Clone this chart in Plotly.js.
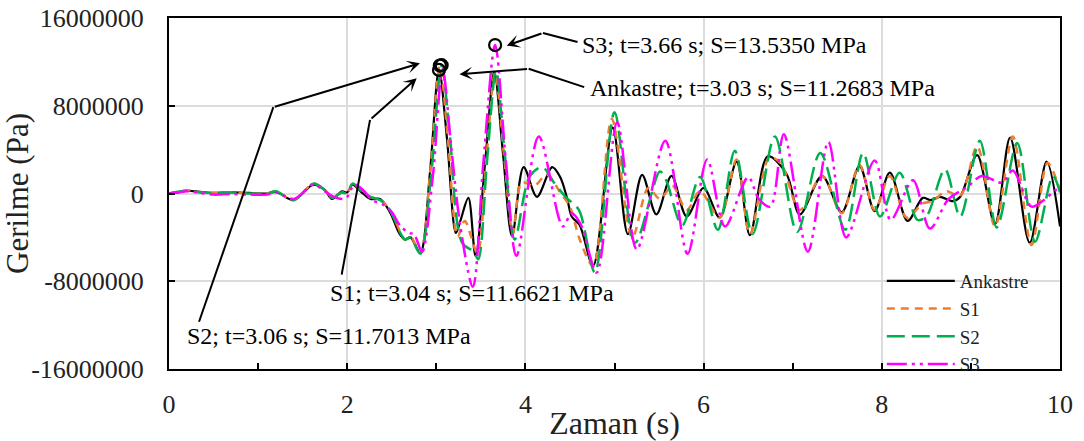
<!DOCTYPE html>
<html>
<head>
<meta charset="utf-8">
<script src="https://cdn.plot.ly/plotly-3.0.1.min.js"></script>
<style>html,body{margin:0;padding:0;background:#fff;}#chart{width:1084px;height:441px;}</style>
</head>
<body>
<div id="chart"></div>
<script>
// ---- data (stress in Pa) ----
const seriesNames = ["Ankastre", "S1", "S2", "S3"];

const tAnkastre = [0,0.1,0.2,0.35,0.5,0.7,0.9,1.1,1.2,1.4,1.62,1.75,1.83,1.94,2.0,2.06,2.15,2.26,2.37,2.48,2.59,2.65,2.71,2.82,2.93,3.03,3.12,3.22,3.27,3.36,3.44,3.55,3.65,3.75,3.85,3.98,4.13,4.3,4.39,4.47,4.52,4.61,4.76,4.98,5.15,5.31,5.47,5.64,5.81,6.0,6.18,6.37,6.52,6.72,6.93,7.08,7.33,7.55,7.75,7.92,8.09,8.29,8.46,8.55,8.65,8.8,8.88,9.07,9.27,9.44,9.66,9.85,10.0];
const sAnkastre = [0,0.1e6,0.25e6,0.15e6,0.05e6,0.1e6,0.05e6,0,0.15e6,-0.6e6,0.8e6,0.3e6,-0.5e6,0.2e6,0.1e6,0.8e6,0.2e6,-0.5e6,-0.5e6,-1.7e6,-3.7e6,-4.2e6,-4.0e6,-5.4e6,2.0e6,11.2683e6,5.0e6,-3.6e6,-2.5e6,-0.4e6,-5.7e6,3.0e6,11.1e6,3.5e6,-3.9e6,2.4e6,-0.3e6,2.4e6,1.5e6,-0.5e6,-2.1e6,-2.9e6,-6.6e6,6.0e6,-3.7e6,1.7e6,-1.9e6,1.6e6,-2.1e6,0.5e6,-2.2e6,2.9e6,-3.8e6,3.4e6,1.8e6,-1.9e6,1.6e6,-1.7e6,2.5e6,-1.6e6,1.9e6,-2.5e6,-0.4e6,-0.6e6,-0.3e6,-0.7e6,-0.3e6,3.5e6,-2.8e6,5.1e6,-4.5e6,2.9e6,-3.0e6];

const tS1 = [0,0.1,0.2,0.35,0.5,0.7,0.9,1.1,1.2,1.4,1.62,1.75,1.83,1.94,2.0,2.06,2.15,2.26,2.37,2.48,2.59,2.65,2.71,2.82,2.93,3.04,3.13,3.24,3.32,3.46,3.56,3.66,3.76,3.86,3.96,4.1,4.24,4.39,4.5,4.61,4.76,4.97,5.2,5.38,5.51,5.65,5.81,5.96,6.18,6.37,6.52,6.74,6.87,7.08,7.33,7.55,7.75,7.92,8.09,8.28,8.46,8.57,8.72,8.88,9.07,9.27,9.47,9.68,9.86,10.0];
const sS1 = [0,0.15e6,0.3e6,0.1e6,0.05e6,0.1e6,0,0,0.2e6,-0.6e6,0.9e6,0.3e6,-0.3e6,0.1e6,0,0.9e6,0.4e6,-0.3e6,-0.6e6,-1.5e6,-3.4e6,-4.2e6,-3.9e6,-5.4e6,1.8e6,11.6621e6,5.0e6,-3.9e6,-2.5e6,-5.4e6,3.0e6,11.0e6,3.5e6,-3.6e6,1.0e6,0.7e6,1.7e6,0.1e6,-1.2e6,-4.2e6,-6.6e6,6.8e6,-4.0e6,0.5e6,-0.5e6,0.7e6,-1.5e6,0.2e6,-2.2e6,3.1e6,-3.7e6,3.3e6,2.7e6,-1.5e6,1.6e6,-1.8e6,2.6e6,-1.5e6,1.6e6,-2.2e6,-0.9e6,-0.7e6,0.2e6,-0.2e6,4.3e6,-3.0e6,5.2e6,-4.7e6,2.8e6,0.3e6];

const tS2 = [0,0.1,0.2,0.35,0.5,0.7,0.9,1.1,1.2,1.4,1.62,1.75,1.83,1.94,2.0,2.06,2.15,2.26,2.37,2.48,2.59,2.65,2.71,2.82,2.94,3.06,3.15,3.29,3.42,3.47,3.57,3.67,3.77,3.88,4.05,4.19,4.32,4.45,4.6,4.78,5.0,5.23,5.51,5.58,5.76,5.96,6.16,6.35,6.55,6.8,7.05,7.31,7.59,7.79,7.98,8.2,8.4,8.5,8.71,8.88,9.1,9.29,9.52,9.72,9.92,10.0];
const sS2 = [0,0.15e6,0.25e6,0.1e6,0.05e6,0.1e6,0,0,0.2e6,-0.6e6,0.9e6,0.3e6,-0.4e6,0.1e6,0,0.9e6,0.3e6,-0.3e6,-0.6e6,-1.5e6,-3.5e6,-4.2e6,-4.0e6,-5.5e6,1.5e6,11.7013e6,5.5e6,-4.5e6,-5.3e6,-6.0e6,3.0e6,11.2e6,3.5e6,-4.2e6,1.6e6,2.4e6,1.0e6,-0.3e6,-1.5e6,-7.2e6,7.4e6,-4.5e6,2.0e6,1.2e6,-2.9e6,1.5e6,-3.3e6,3.9e6,-3.7e6,5.2e6,-3.5e6,3.7e6,-3.3e6,3.7e6,-2.1e6,1.9e6,-2.4e6,-2.1e6,2.2e6,-2.1e6,4.8e6,-3.1e6,4.6e6,-4.4e6,1.6e6,0.1e6];

const tS3 = [0,0.1,0.2,0.35,0.5,0.7,0.9,1.1,1.2,1.4,1.62,1.75,1.85,1.95,2.0,2.08,2.18,2.28,2.4,2.5,2.6,2.7,2.75,2.84,2.96,3.07,3.17,3.27,3.41,3.53,3.66,3.78,3.9,4.15,4.42,4.52,4.62,4.8,5.03,5.25,5.57,5.82,6.04,6.24,6.5,6.62,6.75,6.9,7.17,7.4,7.6,7.92,8.1,8.35,8.54,8.75,8.96,9.12,9.35,9.47,9.68,9.82,9.95,10.0];
const sS3 = [0,0.1e6,0.2e6,0.05e6,-0.1e6,-0.05e6,-0.1e6,-0.1e6,0.1e6,-0.5e6,0.8e6,0.2e6,-0.3e6,-0.5e6,-0.3e6,0.8e6,0.3e6,-0.6e6,-1.0e6,-1.7e6,-3.0e6,-3.6e6,-3.7e6,-5.3e6,1.5e6,11.3e6,4.0e6,-3.0e6,-8.5e6,3.0e6,13.535e6,3.0e6,-5.7e6,5.2e6,-3.0e6,-1.8e6,-2.8e6,-7.2e6,6.5e6,-5.1e6,4.8e6,-5.5e6,3.1e6,-3.0e6,1.5e6,-0.5e6,-1.2e6,5.4e6,-5.3e6,4.7e6,-4.0e6,3.0e6,-2.4e6,1.2e6,-3.2e6,-0.5e6,0.6e6,1.6e6,1.0e6,2.1e6,-1.2e6,-0.6e6,0.3e6,0.4e6];

// peak markers (circles) and their labels
const peakT = [3.03, 3.04, 3.06, 3.66];
const peakS = [11.2683e6, 11.6621e6, 11.7013e6, 13.535e6];
const peakLabels = [
  "Ankastre; t=3.03 s; S=11.2683 MPa",
  "S1; t=3.04 s; S=11.6621 MPa",
  "S2; t=3.06 s; S=11.7013 MPa",
  "S3; t=3.66 s; S=13.5350 MPa"
];

const yTickVals = [-16000000, -8000000, 0, 8000000, 16000000];
const yTickText = ["-16000000", "-8000000", "0", "8000000", "16000000"];
const xTickVals = [0, 2, 4, 6, 8, 10];
const xTickText = ["0", "2", "4", "6", "8", "10"];

// ---- styling ----
const FONT = "Liberation Serif";
const colors = ["#000000", "#ED7D31", "#00B050", "#FF00FF"];
const dashes = ["solid", "8px,6px", "18px,7px", "20px,5px,3px,5px,3px,5px"];
const widths = [2.2, 2.5, 2.5, 2.5];
const tArr = [tAnkastre, tS1, tS2, tS3];
const sArr = [sAnkastre, sS1, sS2, sS3];

const traces = seriesNames.map((n, i) => ({
  x: tArr[i], y: sArr[i], name: n, type: "scatter", mode: "lines",
  line: {color: colors[i], width: widths[i], dash: dashes[i], shape: "spline", smoothing: 0.9},
  hoverinfo: "skip"
}));
traces.push({
  x: peakT, y: peakS, type: "scatter", mode: "markers", showlegend: false,
  marker: {symbol: "circle-open", size: 12, color: "#000", line: {width: 2.2, color: "#000"}},
  hoverinfo: "skip"
});

// label placement (data coordinates): [textX, textY, startX, startY, bendX, bendY, tipX, tipY]
const labelPos = [
  [4.70, 9.63e6, 4.66, 9.70e6, 4.036, 11.37e6, 3.26, 10.87e6],
  [1.78, -9.05e6, 1.938, -7.40e6, 2.256, 6.71e6, 2.78, 10.51e6],
  [0.18, -13.0e6, 0.337, -11.69e6, 1.171, 7.87e6, 2.817, 11.88e6],
  [4.61, 13.5e6, 4.585, 13.82e6, 4.197, 14.64e6, 3.79, 13.48e6]
];

const annotations = [];
const shapes = [];
labelPos.forEach((p, i) => {
  annotations.push({
    x: p[0], y: p[1], xref: "x", yref: "y", text: peakLabels[i], showarrow: false,
    xanchor: "left", yanchor: "middle", font: {family: FONT, size: 24, color: "#000"}
  });
  shapes.push({
    type: "line", xref: "x", yref: "y", x0: p[2], y0: p[3], x1: p[4], y1: p[5],
    line: {color: "#000", width: 2}
  });
  annotations.push({
    x: p[6], y: p[7], xref: "x", yref: "y", ax: p[4], ay: p[5], axref: "x", ayref: "y",
    text: "", showarrow: true, arrowhead: 3, arrowsize: 1.1, arrowwidth: 2, arrowcolor: "#000"
  });
});

const layout = {
  width: 1084, height: 441,
  margin: {l: 169, r: 24, t: 18, b: 72},
  paper_bgcolor: "#fff", plot_bgcolor: "#fff",
  font: {family: FONT, size: 26, color: "#222"},
  showlegend: true,
  legend: {
    x: 0.80, y: 0.305, xanchor: "left", yanchor: "top",
    bgcolor: "rgba(255,255,255,0)", borderwidth: 0,
    font: {family: FONT, size: 19, color: "#222"},
    itemwidth: 68, tracegroupgap: 0
  },
  xaxis: {
    range: [0, 10], tickvals: xTickVals, ticktext: xTickText,
    ticks: "inside", ticklen: 6, tickwidth: 2, tickcolor: "#000",
    minor: {dtick: 1, ticks: "inside", ticklen: 6, tickwidth: 2, tickcolor: "#000", showgrid: false},
    showgrid: true, gridcolor: "#dcdcdc", gridwidth: 2,
    showline: true, linecolor: "#000", linewidth: 2, mirror: true, zeroline: false,
    tickfont: {family: FONT, size: 26, color: "#222"}, ticklabelstandoff: 11,
    title: {text: "Zaman (s)", font: {family: FONT, size: 32, color: "#222"}, standoff: 0}
  },
  yaxis: {
    range: [-16000000, 16000000], tickvals: yTickVals, ticktext: yTickText,
    ticks: "inside", ticklen: 6, tickwidth: 2, tickcolor: "#000",
    showgrid: true, gridcolor: "#dcdcdc", gridwidth: 2,
    showline: true, linecolor: "#000", linewidth: 2, mirror: true, zeroline: false,
    tickfont: {family: FONT, size: 26, color: "#222"}, ticklabelstandoff: 18,
    title: {text: "Gerilme (Pa)", font: {family: FONT, size: 31, color: "#222"}, standoff: 8}
  },
  annotations: annotations,
  shapes: shapes
};

Plotly.newPlot("chart", traces, layout, {staticPlot: true, displayModeBar: false});
</script>
</body>
</html>
